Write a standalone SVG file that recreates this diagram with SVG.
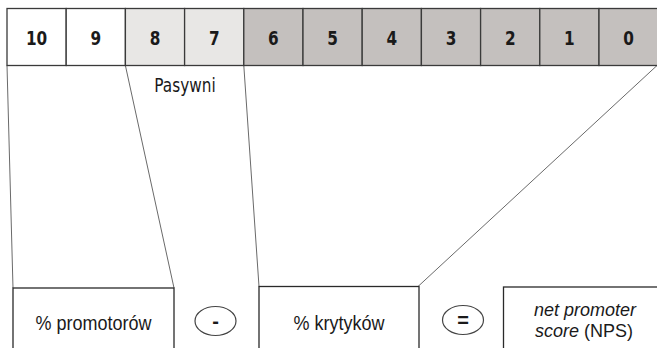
<svg xmlns="http://www.w3.org/2000/svg" width="657" height="348" viewBox="0 0 657 348">
<style>
.cell{stroke:#3a3a3a;stroke-width:1.3}
.w{fill:#ffffff}.l{fill:#e8e7e5}.d{fill:#c4c0be}
.num{font-family:"DejaVu Sans Condensed","DejaVu Sans",sans-serif;font-weight:bold;font-size:17px;fill:#1a1a1a;text-anchor:middle}
.box{fill:#ffffff;stroke:#2a2a2a;stroke-width:1.3}
.lbl{font-family:"Liberation Sans",Arial,sans-serif;font-size:18px;fill:#1a1a1a;text-anchor:middle}
.op{fill:#ffffff;stroke:#444;stroke-width:1.2}
.opt{font-family:"Liberation Sans",Arial,sans-serif;font-weight:bold;font-size:20px;fill:#1a1a1a;text-anchor:middle}
.con line{stroke:#6a6a6a;stroke-width:1}
</style>
<rect width="657" height="348" fill="#ffffff"/>
<g id="connectors" class="con">
<line x1="7" y1="65.5" x2="13" y2="288"/>
<line x1="125.4" y1="65.5" x2="174" y2="288"/>
<line x1="243.8" y1="65.5" x2="259" y2="286.5"/>
<line x1="657" y1="65.5" x2="418" y2="286.5"/>
</g>
<g id="scale">
<g id="c10"><rect class="cell w" x="7" y="8.5" width="59.2" height="57"/><text class="num" transform="translate(36.6 45) scale(1 1.1)">10</text></g>
<g id="c9"><rect class="cell w" x="66.2" y="8.5" width="59.2" height="57"/><text class="num" transform="translate(95.8 45) scale(1 1.1)">9</text></g>
<g id="c8"><rect class="cell l" x="125.4" y="8.5" width="59.2" height="57"/><text class="num" transform="translate(155 45) scale(1 1.1)">8</text></g>
<g id="c7"><rect class="cell l" x="184.6" y="8.5" width="59.2" height="57"/><text class="num" transform="translate(214.2 45) scale(1 1.1)">7</text></g>
<g id="c6"><rect class="cell d" x="243.8" y="8.5" width="59.2" height="57"/><text class="num" transform="translate(273.4 45) scale(1 1.1)">6</text></g>
<g id="c5"><rect class="cell d" x="303" y="8.5" width="59.2" height="57"/><text class="num" transform="translate(332.6 45) scale(1 1.1)">5</text></g>
<g id="c4"><rect class="cell d" x="362.2" y="8.5" width="59.2" height="57"/><text class="num" transform="translate(391.8 45) scale(1 1.1)">4</text></g>
<g id="c3"><rect class="cell d" x="421.4" y="8.5" width="59.2" height="57"/><text class="num" transform="translate(451 45) scale(1 1.1)">3</text></g>
<g id="c2"><rect class="cell d" x="480.6" y="8.5" width="59.2" height="57"/><text class="num" transform="translate(510.2 45) scale(1 1.1)">2</text></g>
<g id="c1"><rect class="cell d" x="539.8" y="8.5" width="59.2" height="57"/><text class="num" transform="translate(569.4 45) scale(1 1.1)">1</text></g>
<g id="c0"><rect class="cell d" x="599" y="8.5" width="59.2" height="57"/><text class="num" transform="translate(628.6 45) scale(1 1.1)">0</text></g>
</g>
<g id="pasywni"><text transform="translate(185 92) scale(1 1.1)" font-family="'DejaVu Sans Condensed','DejaVu Sans',sans-serif" font-size="17" fill="#1a1a1a" text-anchor="middle">Pasywni</text></g>
<g id="promotorzy"><rect class="box" x="13" y="288" width="161" height="70"/><text class="lbl" transform="translate(93.5 330) scale(1 1.15)">% promotorów</text></g>
<g id="minus"><ellipse class="op" cx="215.5" cy="321" rx="20.5" ry="14.5"/><text class="opt" x="215.5" y="328">-</text></g>
<g id="krytycy"><rect class="box" x="259" y="286.5" width="160" height="72"/><text class="lbl" transform="translate(339 330) scale(1 1.15)">% krytyków</text></g>
<g id="equals"><ellipse class="op" cx="463" cy="320" rx="20.5" ry="14.5"/><text class="opt" x="463" y="327">=</text></g>
<g id="nps"><rect class="box" x="503.5" y="287" width="160" height="72"/><text class="lbl" font-style="italic" transform="translate(585 316) scale(1 1.05)">net promoter</text><text class="lbl" transform="translate(584 337) scale(1 1.05)"><tspan font-style="italic">score</tspan> (NPS)</text></g>
</svg>
